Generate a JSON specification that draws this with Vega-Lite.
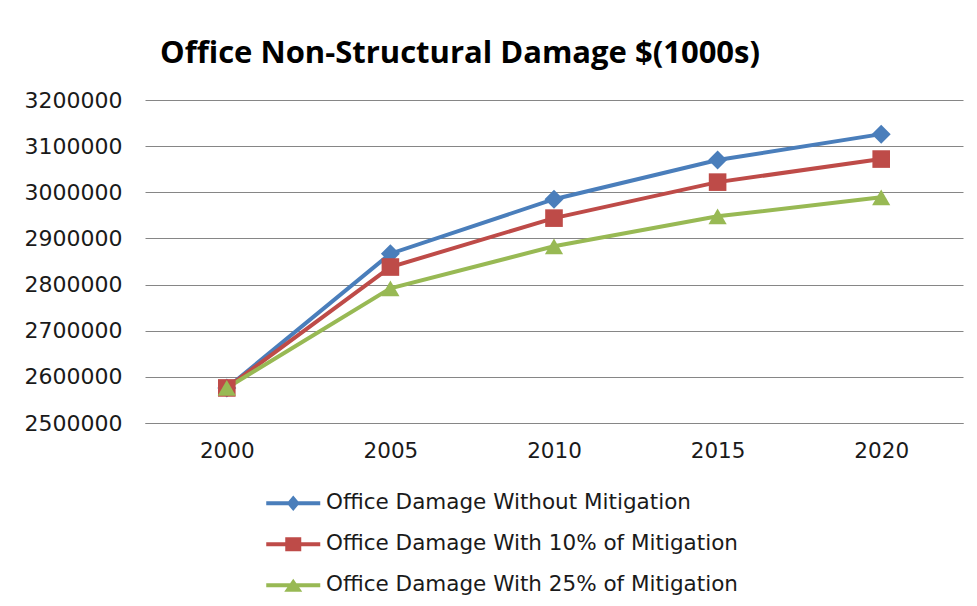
{
  "$schema": "https://vega.github.io/schema/vega-lite/v6.json",
  "autosize": {"type": "none"},
  "padding": {"left": 145, "top": 100, "right": 14, "bottom": 183},
  "width": 818,
  "height": 323,
  "background": "white",
  "title": {
    "text": "Office Non-Structural Damage $(1000s)",
    "anchor": "start",
    "frame": "group",
    "dx": 15,
    "font": "Open Sans",
    "fontSize": 31,
    "fontWeight": "bold",
    "color": "#000000",
    "baseline": "alphabetic",
    "offset": -5
  },
  "config": {
    "view": {"stroke": null},
    "font": "DejaVu Sans"
  },
  "data": {
    "values": [
      {"year": "2000", "series": "Office Damage Without Mitigation", "value": 2576000},
      {"year": "2005", "series": "Office Damage Without Mitigation", "value": 2867000},
      {"year": "2010", "series": "Office Damage Without Mitigation", "value": 2985000},
      {"year": "2015", "series": "Office Damage Without Mitigation", "value": 3070000},
      {"year": "2020", "series": "Office Damage Without Mitigation", "value": 3126000},
      {"year": "2000", "series": "Office Damage With 10% of Mitigation", "value": 2576000},
      {"year": "2005", "series": "Office Damage With 10% of Mitigation", "value": 2838000},
      {"year": "2010", "series": "Office Damage With 10% of Mitigation", "value": 2944000},
      {"year": "2015", "series": "Office Damage With 10% of Mitigation", "value": 3022000},
      {"year": "2020", "series": "Office Damage With 10% of Mitigation", "value": 3072000},
      {"year": "2000", "series": "Office Damage With 25% of Mitigation", "value": 2576000},
      {"year": "2005", "series": "Office Damage With 25% of Mitigation", "value": 2792000},
      {"year": "2010", "series": "Office Damage With 25% of Mitigation", "value": 2883000},
      {"year": "2015", "series": "Office Damage With 25% of Mitigation", "value": 2948000},
      {"year": "2020", "series": "Office Damage With 25% of Mitigation", "value": 2989000}
    ]
  },
  "encoding": {
    "x": {
      "field": "year",
      "type": "ordinal",
      "scale": {"type": "point", "padding": 0.5},
      "axis": {
        "title": null,
        "labelAngle": 0,
        "ticks": false,
        "domain": true,
        "domainColor": "#868686",
        "domainWidth": 1,
        "grid": false,
        "labelFont": "DejaVu Sans",
        "labelFontSize": 21.5,
        "labelColor": "#1a1a1a",
        "labelPadding": 17
      }
    },
    "y": {
      "field": "value",
      "type": "quantitative",
      "scale": {"domain": [2500000, 3200000], "zero": false, "nice": false},
      "axis": {
        "title": null,
        "values": [2500000, 2600000, 2700000, 2800000, 2900000, 3000000, 3100000, 3200000],
        "format": "d",
        "ticks": false,
        "domain": false,
        "grid": true,
        "gridColor": "#868686",
        "gridWidth": 1,
        "labelFont": "DejaVu Sans",
        "labelFontSize": 22,
        "labelColor": "#1a1a1a",
        "labelPadding": 23
      }
    },
    "color": {
      "field": "series",
      "type": "nominal",
      "scale": {
        "domain": ["Office Damage Without Mitigation", "Office Damage With 10% of Mitigation", "Office Damage With 25% of Mitigation"],
        "range": ["#4A7EBB", "#BE4B48", "#98B954"]
      },
      "legend": {
        "title": null,
        "orient": "none",
        "legendX": 137.5,
        "legendY": 392.5,
        "direction": "vertical",
        "padding": 0,
        "symbolSize": 400,
        "symbolOpacity": 1,
        "symbolStrokeWidth": 0,
        "labelFont": "DejaVu Sans",
        "labelFontSize": 21.5,
        "labelColor": "#1a1a1a",
        "labelOffset": 22,
        "labelLimit": 600,
        "rowPadding": 18,
        "encode": {
          "symbols": {
            "update": {
              "shape": {"signal": "datum.value === 'Office Damage Without Mitigation' ? 'M-2.7,-0.2H2.7V0.2H-2.7Z M0,-0.78L0.65,0L0,0.78L-0.65,0Z' : datum.value === 'Office Damage With 10% of Mitigation' ? 'M-2.7,-0.2H2.7V0.2H-2.7Z M-0.8,-0.7H0.8V0.7H-0.8Z' : 'M-2.7,-0.2H2.7V0.2H-2.7Z M0,-0.66L0.9,0.66H-0.9Z'"},
              "fill": {"signal": "datum.value === 'Office Damage Without Mitigation' ? '#4A7EBB' : datum.value === 'Office Damage With 10% of Mitigation' ? '#BE4B48' : '#98B954'"},
              "stroke": {"value": "transparent"},
              "strokeWidth": {"value": 0}
            }
          }
        }
      }
    }
  },
  "layer": [
    {
      "mark": {"type": "line", "strokeWidth": 4}
    },
    {
      "transform": [{"filter": "datum.series === 'Office Damage Without Mitigation'"}],
      "mark": {"type": "point", "shape": "diamond", "filled": true, "opacity": 1, "size": 360}
    },
    {
      "transform": [{"filter": "datum.series === 'Office Damage With 10% of Mitigation'"}],
      "mark": {"type": "point", "shape": "square", "filled": true, "opacity": 1, "size": 310}
    },
    {
      "transform": [{"filter": "datum.series === 'Office Damage With 25% of Mitigation'"}],
      "mark": {"type": "point", "shape": "triangle-up", "filled": true, "opacity": 1, "size": 330}
    }
  ]
}
